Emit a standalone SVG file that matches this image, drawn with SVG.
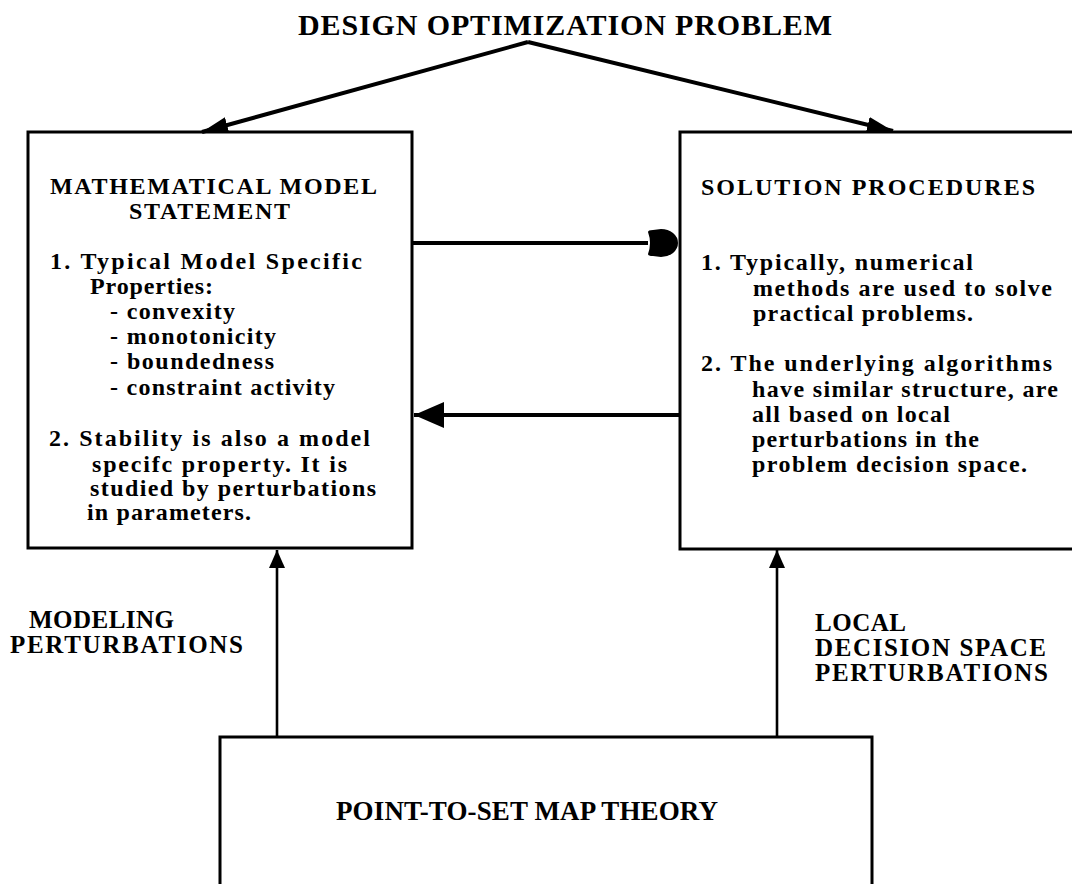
<svg xmlns="http://www.w3.org/2000/svg" width="1072" height="884" viewBox="0 0 1072 884">
<style>
.box{fill:#fff;stroke:#000;stroke-width:3}
.ln{fill:none;stroke:#000;stroke-width:4}
.thin{fill:none;stroke:#000;stroke-width:2.6}
text{font-family:"Liberation Serif","Times New Roman",serif;font-weight:bold;fill:#000}
.h{font-size:24px}
.b{font-size:24px}
.l{font-size:25px}
.t{font-size:30px}
.p{font-size:27px}
</style>
<defs>
<marker id="arrowTop" markerUnits="userSpaceOnUse" markerWidth="27" markerHeight="17" refX="26" refY="8" orient="auto" viewBox="0 0 27 16">
<path d="M0,0 L26,8 L0,16 z" fill="#000"/>
</marker>
<marker id="arrowUp" markerUnits="userSpaceOnUse" markerWidth="19" markerHeight="17" refX="18" refY="8" orient="auto" viewBox="0 0 19 16">
<path d="M0,0 L18,8 L0,16 z" fill="#000"/>
</marker>
<marker id="arrowBig" markerUnits="userSpaceOnUse" markerWidth="31" markerHeight="27" refX="30" refY="13" orient="auto" viewBox="0 0 31 26">
<path d="M0,0 L30,13 L0,26 z" fill="#000"/>
</marker>
<marker id="dome" markerUnits="userSpaceOnUse" markerWidth="33" markerHeight="30" refX="1" refY="14" orient="auto" viewBox="0 0 33 30">
<path d="M1,3 Q1,1 6,1 L14,0 A17,14 0 0 1 14,28 L6,27 Q1,27 1,25 Q5,14 1,3 z" fill="#000"/>
</marker>
</defs>
<rect width="1072" height="884" fill="#fff"/>
<g id="title">
<text class="t" x="298" y="35" textLength="534" lengthAdjust="spacing">DESIGN OPTIMIZATION PROBLEM</text>
</g>
<g id="model">
<rect class="box" x="28" y="132" width="384" height="416"/>
<text class="h" x="50" y="194" textLength="327" lengthAdjust="spacing">MATHEMATICAL MODEL</text>
<text class="h" x="129" y="219" textLength="161" lengthAdjust="spacing">STATEMENT</text>
<text class="b" x="50" y="269" textLength="312" lengthAdjust="spacing">1. Typical Model Specific</text>
<text class="b" x="90" y="294" textLength="123" lengthAdjust="spacing">Properties:</text>
<text class="b" x="110" y="319" textLength="125" lengthAdjust="spacing">- convexity</text>
<text class="b" x="110" y="344" textLength="166" lengthAdjust="spacing">- monotonicity</text>
<text class="b" x="110" y="369" textLength="164" lengthAdjust="spacing">- boundedness</text>
<text class="b" x="110" y="395" textLength="225" lengthAdjust="spacing">- constraint activity</text>
<text class="b" x="49" y="446" textLength="321" lengthAdjust="spacing">2. Stability is also a model</text>
<text class="b" x="92" y="472" textLength="255" lengthAdjust="spacing">specifc property. It is</text>
<text class="b" x="90" y="496" textLength="286" lengthAdjust="spacing">studied by perturbations</text>
<text class="b" x="87" y="520" textLength="164" lengthAdjust="spacing">in parameters.</text>
</g>
<g id="solution">
<rect class="box" x="680" y="132" width="400" height="417"/>
<text class="h" x="701" y="195" textLength="334" lengthAdjust="spacing">SOLUTION PROCEDURES</text>
<text class="b" x="701" y="270" textLength="272" lengthAdjust="spacing">1. Typically, numerical</text>
<text class="b" x="753" y="296" textLength="299" lengthAdjust="spacing">methods are used to solve</text>
<text class="b" x="753" y="321" textLength="220" lengthAdjust="spacing">practical problems.</text>
<text class="b" x="701" y="371" textLength="351" lengthAdjust="spacing">2. The underlying algorithms</text>
<text class="b" x="752" y="397" textLength="306" lengthAdjust="spacing">have similar structure, are</text>
<text class="b" x="752" y="422" textLength="198" lengthAdjust="spacing">all based on local</text>
<text class="b" x="752" y="447" textLength="227" lengthAdjust="spacing">perturbations in the</text>
<text class="b" x="752" y="472" textLength="275" lengthAdjust="spacing">problem decision space.</text>
</g>
<g id="theory">
<rect class="box" x="220" y="737" width="652" height="160"/>
<text class="p" x="336" y="820" textLength="382" lengthAdjust="spacing">POINT-TO-SET MAP THEORY</text>
</g>
<g id="labels">
<text class="l" x="29" y="628" textLength="145" lengthAdjust="spacing">MODELING</text>
<text class="l" x="10" y="653" textLength="233" lengthAdjust="spacing">PERTURBATIONS</text>
<text class="l" x="815" y="631" textLength="91" lengthAdjust="spacing">LOCAL</text>
<text class="l" x="815" y="656" textLength="231" lengthAdjust="spacing">DECISION SPACE</text>
<text class="l" x="815" y="681" textLength="233" lengthAdjust="spacing">PERTURBATIONS</text>
</g>
<g id="connectors">
<line class="ln" x1="528" y1="42" x2="202" y2="132" marker-end="url(#arrowTop)"/>
<line class="ln" x1="528" y1="42" x2="893" y2="131" marker-end="url(#arrowTop)"/>
<line class="ln" x1="412" y1="243" x2="648" y2="243" marker-end="url(#dome)"/>
<line class="ln" x1="680" y1="415" x2="414" y2="415" marker-end="url(#arrowBig)"/>
<line class="thin" x1="277" y1="737" x2="277" y2="550" marker-end="url(#arrowUp)"/>
<line class="thin" x1="777" y1="737" x2="777" y2="550" marker-end="url(#arrowUp)"/>
</g>
</svg>
